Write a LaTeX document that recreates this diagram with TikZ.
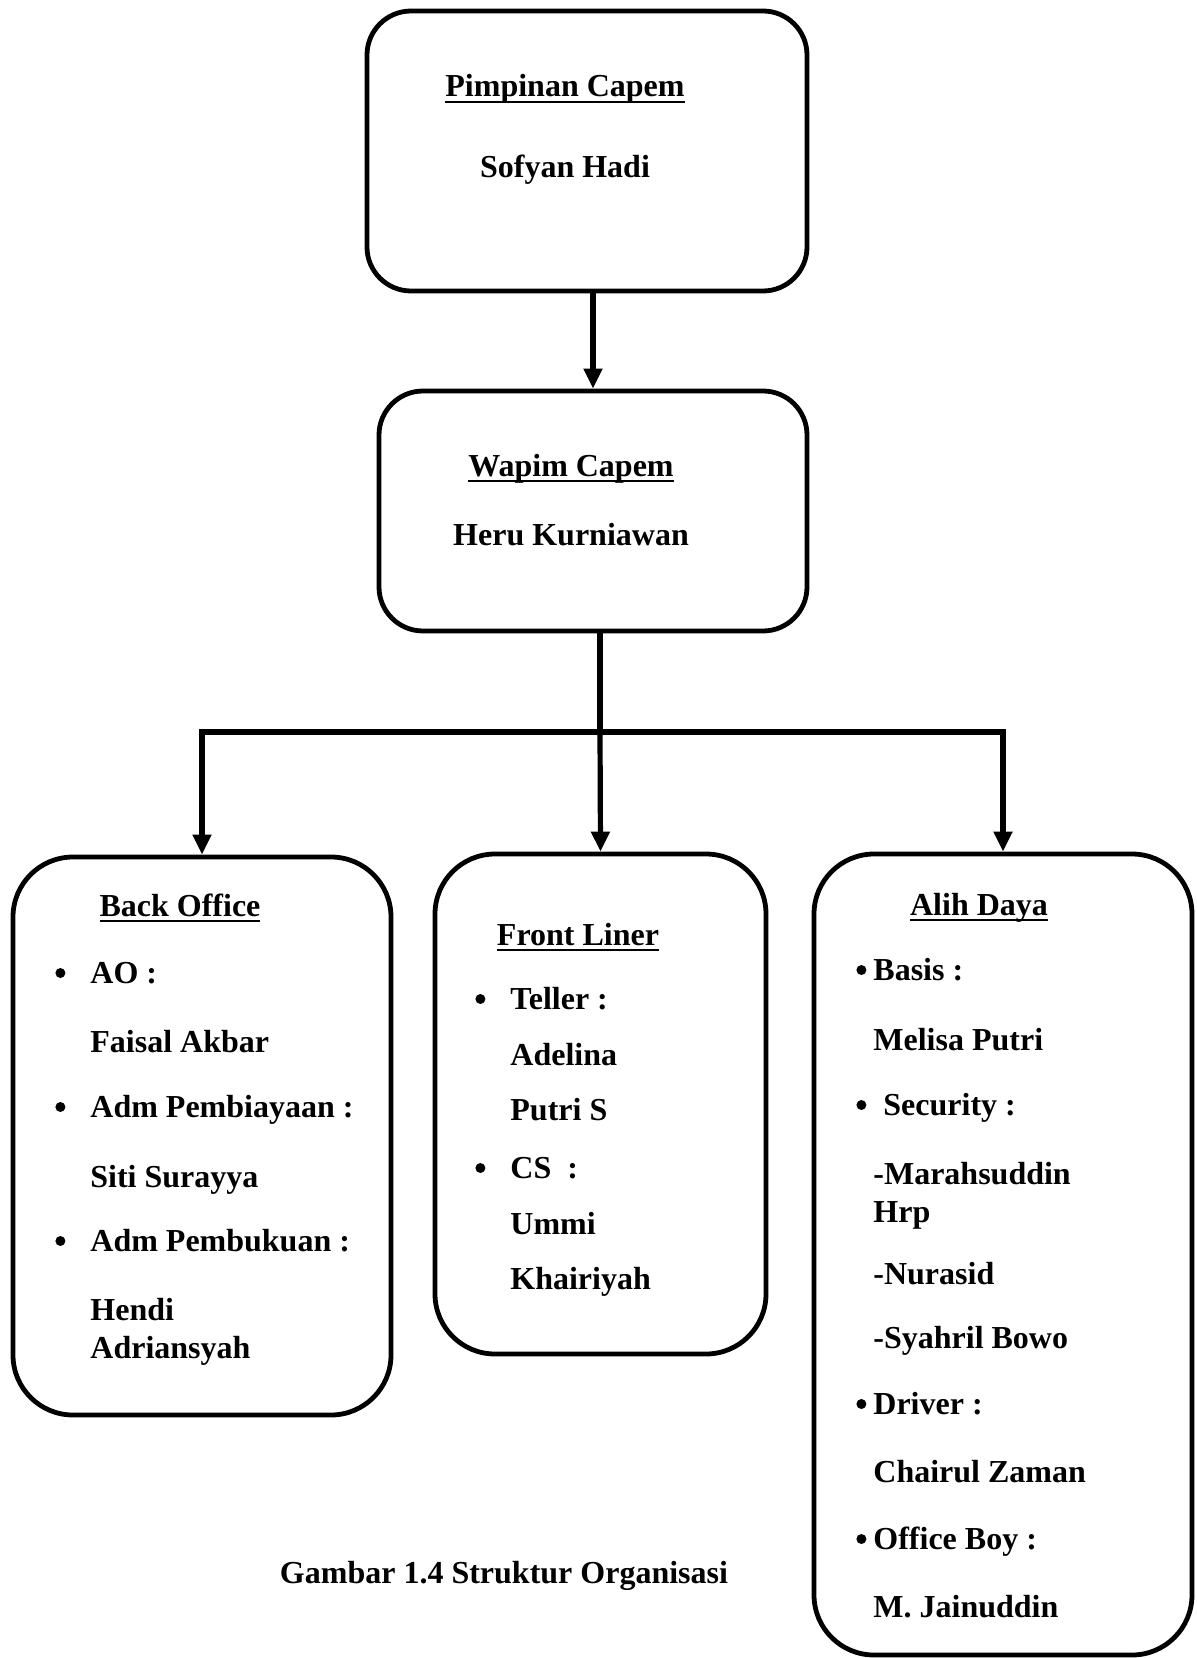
\documentclass[tikz,border=0pt]{standalone}
\usepackage{fontspec}
\setmainfont{Liberation Serif}
\usetikzlibrary{arrows.meta}

\newcommand{\utext}[1]{\setbox0=\hbox{#1}\rlap{\rule[-3.2pt]{\wd0}{1.1pt}}\box0}
\newcommand{\bul}[1]{\llap{\tikz[baseline=-5pt]\fill (0,0) circle (2.5pt);\hspace{#1}}}

\tikzset{
 unit/.style={draw, rectangle, rounded corners=#1, line width=2.4pt, inner sep=0pt},
 unit/.default=22pt,
 txt/.style={font=\fontsize{16}{19}\selectfont\bfseries, inner sep=0pt, anchor=base west},
 ttl/.style={txt, anchor=base},
 link/.style={line width=2.6pt},
 arr/.style={link, -{Triangle[length=10pt,width=9pt]}}
}

\begin{document}
\begin{tikzpicture}[x=0.5pt,y=-0.5pt]
 \path[use as bounding box, fill=white] (0,0) rectangle (1196,1658);

 \node (pimpinan) [unit, minimum width=220pt, minimum height=140pt] at (587,151) {};
 \node (wapim) [unit, minimum width=214pt, minimum height=120pt] at (593,511) {};
 \node (backoffice) [unit=30pt, minimum width=189pt, minimum height=279pt] at (202,1136) {};
 \node (frontliner) [unit=30pt, minimum width=165.5pt, minimum height=250pt] at (600.5,1104) {};
 \node (alihdaya) [unit=30pt, minimum width=189pt, minimum height=400.5pt] at (1003,1254.5) {};

 \node (pimTitle) [ttl] at (565,97) {\utext{Pimpinan Capem}};
 \node (pimName) [ttl] at (565,178) {Sofyan Hadi};
 \node (wapTitle) [ttl] at (571,476) {\utext{Wapim Capem}};
 \node (wapName) [ttl] at (571,545) {Heru Kurniawan};

 \node (boTitle) [ttl] at (180,916) {\utext{Back Office}};
 \node (boAO) [txt] at (90,983) {\bul{12.5pt}AO :};
 \node (boAOname) [txt] at (90,1052) {Faisal Akbar};
 \node (boAdmP) [txt] at (90,1117) {\bul{12.5pt}Adm Pembiayaan :};
 \node (boAdmPname) [txt] at (90,1187) {Siti Surayya};
 \node (boAdmB) [txt] at (90,1251) {\bul{12.5pt}Adm Pembukuan :};
 \node (boAdmBname) [txt] at (90,1320) {Hendi};
 \node (boAdmBname2) [txt] at (90,1358) {Adriansyah};

 \node (flTitle) [ttl] at (578,945) {\utext{Front Liner}};
 \node (flTeller) [txt] at (510,1009) {\bul{12.5pt}Teller :};
 \node (flTellerName) [txt] at (510,1065) {Adelina};
 \node (flTellerName2) [txt] at (510,1120) {Putri S};
 \node (flCS) [txt] at (510,1178) {\bul{12.5pt}CS\ \ :};
 \node (flCSname) [txt] at (510,1234) {Ummi};
 \node (flCSname2) [txt] at (510,1289) {Khairiyah};

 \node (adTitle) [ttl] at (979,915) {\utext{Alih Daya}};
 \node (adBasis) [txt] at (873,980) {\bul{3.5pt}Basis :};
 \node (adBasisName) [txt] at (873,1050) {Melisa Putri};
 \node (adSec) [txt] at (883,1115) {\bul{8.5pt}Security :};
 \node (adSecName) [txt] at (873,1184) {-Marahsuddin};
 \node (adSecName2) [txt] at (873,1222) {Hrp};
 \node (adSecName3) [txt] at (873,1284) {-Nurasid};
 \node (adSecName4) [txt] at (873,1348) {-Syahril Bowo};
 \node (adDriver) [txt] at (873,1414) {\bul{3.5pt}Driver :};
 \node (adDriverName) [txt] at (873,1482) {Chairul Zaman};
 \node (adOB) [txt] at (873,1549) {\bul{3.5pt}Office Boy :};
 \node (adOBname) [txt] at (873,1617) {M. Jainuddin};

 \node (caption) [ttl] at (504,1583) {Gambar 1.4 Struktur Organisasi};

 \coordinate (bar) at (600,732);
 \draw[arr] (pimpinan.south -| wapim.north) -- (wapim.north);
 \draw[link] (wapim.south -| bar) -- (bar);
 \draw[link, line cap=rect] (bar -| backoffice.north) -- (bar -| alihdaya.north);
 \draw[arr] (bar -| backoffice.north) -- (backoffice.north);
 \draw[arr] (bar) -- (frontliner.north);
 \draw[arr] (bar -| alihdaya.north) -- (alihdaya.north);
\end{tikzpicture}
\end{document}
